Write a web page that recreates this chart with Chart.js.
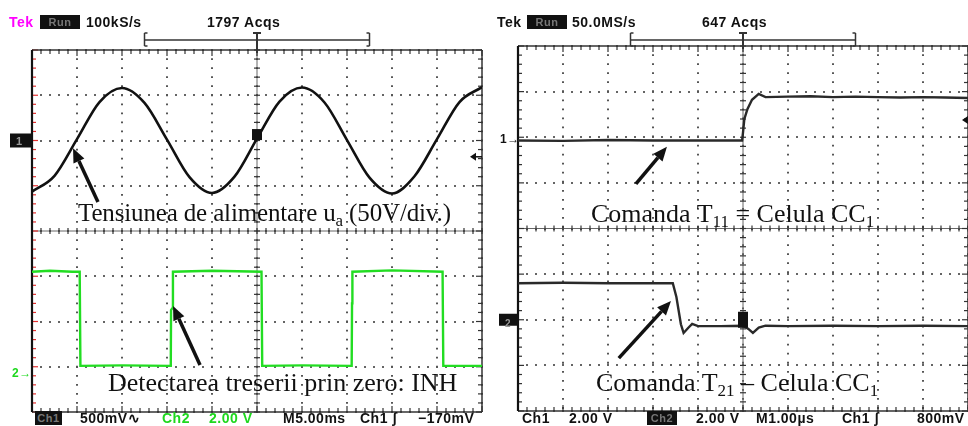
<!DOCTYPE html>
<html><head><meta charset="utf-8">
<script src="https://cdn.jsdelivr.net/npm/chart.js@4.4.0/dist/chart.umd.min.js"></script>
<style>
html,body{margin:0;padding:0;background:#fff;}
#wrap{position:relative;width:968px;height:426px;overflow:hidden;background:#fff;}
.panel{position:absolute;top:0;width:484px;height:426px;}
.panel canvas{position:absolute;left:0;top:0;}
.hd{position:absolute;font:bold 14px "Liberation Sans",Arial,sans-serif;line-height:14px;letter-spacing:0.5px;white-space:nowrap;color:#111;}
.box{background:#111;color:#777;font-size:11px;text-align:center;height:14px;}
.grn{color:#1ed81e;}
.ann{position:absolute;font:26px "Liberation Serif","Times New Roman",serif;line-height:26px;white-space:nowrap;color:#111;}
.ann sub{font-size:17px;vertical-align:-5px;line-height:0;}
</style></head>
<body>
<div id="wrap">
  <div class="panel" style="left:0"><canvas id="cL" width="484" height="426"></canvas></div>
  <div class="panel" style="left:484px"><canvas id="cR" width="484" height="426"></canvas></div>

  <!-- left header -->
  <span class="hd" style="left:9px;top:15px;color:#ff00ff">Tek</span>
  <span class="hd box" style="left:40px;top:15px;width:40px">Run</span>
  <span class="hd" style="left:86px;top:15px">100kS/s</span>
  <span class="hd" style="left:207px;top:15px">1797 Acqs</span>
  <!-- right header -->
  <span class="hd" style="left:497px;top:15px">Tek</span>
  <span class="hd box" style="left:527px;top:15px;width:40px">Run</span>
  <span class="hd" style="left:572px;top:15px">50.0MS/s</span>
  <span class="hd" style="left:702px;top:15px">647 Acqs</span>

  <!-- left footer -->
  <span class="hd box" style="left:35px;top:411px;width:27px">Ch1</span>
  <span class="hd" style="left:80px;top:411px">500mV∿</span>
  <span class="hd grn" style="left:162px;top:411px">Ch2</span>
  <span class="hd grn" style="left:209px;top:411px">2.00 V</span>
  <span class="hd" style="left:283px;top:411px">M5.00ms</span>
  <span class="hd" style="left:360px;top:411px">Ch1 ʃ</span>
  <span class="hd" style="left:418px;top:411px">−170mV</span>
  <!-- right footer -->
  <span class="hd" style="left:522px;top:411px">Ch1</span>
  <span class="hd" style="left:569px;top:411px">2.00 V</span>
  <span class="hd box" style="left:647px;top:411px;width:30px">Ch2</span>
  <span class="hd" style="left:696px;top:411px">2.00 V</span>
  <span class="hd" style="left:756px;top:411px">M1.00µs</span>
  <span class="hd" style="left:842px;top:411px">Ch1 ʃ</span>
  <span class="hd" style="left:917px;top:411px">800mV</span>

  <!-- channel marker labels -->
  <span class="hd" style="left:16px;top:134px;font-size:11px;color:#999">1</span>
  <span class="hd grn" style="left:12px;top:366px;font-size:12px">2→</span>
  <span class="hd" style="left:500px;top:132px;font-size:12px">1→</span>
  <span class="hd" style="left:505px;top:317px;font-size:10px;color:#999">2</span>

  <!-- annotations -->
  <div class="ann" style="left:78px;top:200px;font-size:25px;letter-spacing:-0.15px">Tensiunea de alimentare u<sub>a</sub> (50V/div.)</div>
  <div class="ann" style="left:108px;top:370px">Detectarea treserii prin zero: INH</div>
  <div class="ann" style="left:591px;top:201px">Comanda T<sub>11</sub> = Celula CC<sub>1</sub></div>
  <div class="ann" style="left:596px;top:370px">Comanda T<sub>21</sub> – Celula CC<sub>1</sub></div>
</div>
<script>
// ---------- DATA (y in screen divisions, center = 0) ----------
// Left scope: time base 5 ms/div, 10 divisions
const leftTimeMs   = [0,2.5,5,7.5,10,12.5,15,17.5,20,22.5,25,27.5,30,32.5,35,37.5,40,42.5,45,47.5,50];
const supplyDiv    = [0.87,1.22,2.03,2.85,3.16,2.83,2.02,1.19,0.84,1.20,2.04,2.86,3.17,2.84,2.01,1.18,0.83,1.21,2.03,2.85,3.18];
const inhTimeMs    = [0,2,4.5,5.3,5.38,10,15.42,15.45,15.62,15.66,20,25.5,25.58,30,35.52,35.56,35.6,40,45.62,45.7,50];
const inhDiv       = [-0.9,-0.88,-0.9,-0.9,-2.98,-2.97,-2.98,-1.75,-1.7,-0.9,-0.88,-0.9,-2.98,-2.97,-2.98,-1.6,-0.9,-0.87,-0.9,-2.98,-2.98];
// Right scope: time base 1 µs/div
const t11TimeUs    = [0,1,2,3,4,4.98,5.0,5.03,5.1,5.2,5.35,5.5,6,6.5,7,7.5,8,8.5,9,9.5,10];
const t11Div       = [1.93,1.92,1.94,1.93,1.93,1.93,2.1,2.4,2.62,2.82,2.95,2.88,2.89,2.9,2.88,2.89,2.88,2.87,2.88,2.87,2.86];
const t21TimeUs    = [0,1,2,3,3.44,3.52,3.62,3.68,3.78,3.87,4.0,4.5,5.0,5.12,5.22,5.35,5.5,6,7,8,9,10];
const t21Div       = [-1.2,-1.19,-1.2,-1.2,-1.2,-1.5,-2.1,-2.29,-2.18,-2.09,-2.14,-2.14,-2.13,-2.2,-2.29,-2.17,-2.13,-2.14,-2.13,-2.14,-2.13,-2.14];

const zip = (xs, ys) => xs.map((v, i) => ({x: v, y: ys[i]}));

function arrow(ctx, x1, y1, x2, y2){
  const ang = Math.atan2(y2 - y1, x2 - x1), hl = 14, hw = 6;
  const bx = x2 - hl * Math.cos(ang), by = y2 - hl * Math.sin(ang);
  ctx.strokeStyle = '#111'; ctx.fillStyle = '#111'; ctx.lineWidth = 3.5; ctx.lineCap = 'butt';
  ctx.beginPath(); ctx.moveTo(x1, y1); ctx.lineTo(bx, by); ctx.stroke();
  ctx.beginPath(); ctx.moveTo(x2, y2);
  ctx.lineTo(bx + hw * Math.sin(ang), by - hw * Math.cos(ang));
  ctx.lineTo(bx - hw * Math.sin(ang), by + hw * Math.cos(ang));
  ctx.closePath(); ctx.fill();
}

function makeScope(cfg){
  return {
    id: 'scope',
    beforeDatasetsDraw(chart){
      const {ctx, chartArea: a, scales: {x, y}} = chart;
      const xv = f => x.getPixelForValue(x.min + (x.max - x.min) * f);
      const yv = f => y.getPixelForValue(y.min + (y.max - y.min) * f);
      const cx = xv(0.5), cy = y.getPixelForValue(0);
      const seg = (x1, y1, x2, y2) => { ctx.beginPath(); ctx.moveTo(x1, y1); ctx.lineTo(x2, y2); ctx.stroke(); };
      ctx.save();
      // center cross
      ctx.strokeStyle = '#666'; ctx.lineWidth = 1;
      seg(cx, a.top, cx, a.bottom); seg(a.left, cy, a.right, cy);
      ctx.strokeStyle = '#333'; ctx.lineWidth = 1.2;
      for (let i = 0; i <= 50; i++){
        const px = xv(i / 50), L = i % 5 === 0 ? 6 : 4;
        seg(px, a.top, px, a.top + L);
        seg(px, a.bottom, px, a.bottom - L);
        seg(px, cy - 3, px, cy + 3);
      }
      for (let j = 0; j <= 40; j++){
        const py = yv(j / 40), L = j % 5 === 0 ? 6 : 4;
        ctx.strokeStyle = '#333';
        seg(a.right, py, a.right - L, py);
        seg(cx - 3, py, cx + 3, py);
        ctx.strokeStyle = cfg.leftTick;
        seg(a.left, py, a.left + L, py);
      }
      // frame
      ctx.strokeStyle = '#333'; ctx.lineWidth = 1.5;
      seg(a.left, a.top, a.right, a.top);
      seg(a.left, a.bottom, a.right, a.bottom);
      seg(a.right, a.top, a.right, a.bottom);
      ctx.strokeStyle = '#111'; ctx.lineWidth = 2.2;
      seg(a.left, a.top, a.left, a.bottom);
      // record bracket  [----T----]
      const by = a.top + cfg.bracketDy, b1 = xv(0.25), b2 = xv(0.75);
      ctx.strokeStyle = '#333'; ctx.lineWidth = 1.5;
      seg(b1, by, b2, by);
      seg(b1, by - 7, b1, by + 6); seg(b1, by - 7, b1 + 3, by - 7); seg(b1, by + 6, b1 + 3, by + 6);
      seg(b2, by - 7, b2, by + 6); seg(b2, by - 7, b2 - 3, by - 7); seg(b2, by + 6, b2 - 3, by + 6);
      ctx.lineWidth = 2;
      seg(cx - 4, by - 7, cx + 4, by - 7); seg(cx, by - 7, cx, a.top + 3);
      ctx.restore();
    },
    afterDatasetsDraw(chart){
      const {ctx, chartArea: a, scales: {x, y}} = chart;
      ctx.save();
      cfg.draw(ctx, a, x, y);
      ctx.restore();
    }
  };
}

function trigLevel(ctx, px, py){
  ctx.fillStyle = '#111'; ctx.strokeStyle = '#111'; ctx.lineWidth = 1.5;
  ctx.beginPath(); ctx.moveTo(px, py); ctx.lineTo(px + 6, py - 4); ctx.lineTo(px + 6, py + 4); ctx.closePath(); ctx.fill();
  ctx.beginPath(); ctx.moveTo(px + 6, py); ctx.lineTo(px + 12, py); ctx.stroke();
}

function baseOptions(pad, xMax){
  const gridCommon = {color: '#555', lineWidth: 2, drawTicks: false};
  return {
    responsive: false, animation: false,
    layout: {padding: pad},
    plugins: {legend: {display: false}, tooltip: {enabled: false}},
    elements: {point: {radius: 0}},
    scales: {
      x: {type: 'linear', min: 0, max: xMax, ticks: {display: false, stepSize: xMax / 10},
          grid: gridCommon, border: {display: false, dash: [1.8, 7.25], dashOffset: 0.9}},
      y: {type: 'linear', min: -4, max: 4, ticks: {display: false, stepSize: 1},
          grid: gridCommon, border: {display: false, dash: [1.8, 7.2], dashOffset: 0.9}}
    }
  };
}

// ---------- LEFT SCOPE ----------
new Chart(document.getElementById('cL'), {
  type: 'line',
  data: {datasets: [
    {data: zip(leftTimeMs, supplyDiv), borderColor: '#111', borderWidth: 2.6, cubicInterpolationMode: 'monotone'},
    {data: zip(inhTimeMs, inhDiv), borderColor: '#22dd22', borderWidth: 2.4, tension: 0}
  ]},
  options: baseOptions({left: 32, right: 2, top: 50, bottom: 14}, 50),
  plugins: [makeScope({
    leftTick: '#e23030', bracketDy: -10,
    draw(ctx, a, x, y){
      const g1 = y.getPixelForValue(2);
      ctx.fillStyle = '#111'; ctx.fillRect(a.left - 22, g1 - 7, 22, 14);
      ctx.fillRect(x.getPixelForValue(25) - 5, y.getPixelForValue(2.12) - 6, 10, 11);
      trigLevel(ctx, a.right - 12, y.getPixelForValue(1.64));
      arrow(ctx, x.getPixelForValue(7.33), y.getPixelForValue(0.64), x.getPixelForValue(4.56), y.getPixelForValue(1.83));
      arrow(ctx, x.getPixelForValue(18.67), y.getPixelForValue(-2.96), x.getPixelForValue(15.67), y.getPixelForValue(-1.66));
    }
  })]
});

// ---------- RIGHT SCOPE ----------
new Chart(document.getElementById('cR'), {
  type: 'line',
  data: {datasets: [
    {data: zip(t11TimeUs, t11Div), borderColor: '#2a2a2a', borderWidth: 2.4, tension: 0},
    {data: zip(t21TimeUs, t21Div), borderColor: '#2a2a2a', borderWidth: 2.4, tension: 0}
  ]},
  options: baseOptions({left: 34, right: 0, top: 46, bottom: 15}, 10),
  plugins: [makeScope({
    leftTick: '#333', bracketDy: -6,
    draw(ctx, a, x, y){
      const g2 = y.getPixelForValue(-2);
      ctx.fillStyle = '#111'; ctx.fillRect(a.left - 19, g2 - 6, 19, 12);
      ctx.fillRect(x.getPixelForValue(5) - 5, y.getPixelForValue(-2.0) - 8, 10, 16);
      trigLevel(ctx, a.right - 6, y.getPixelForValue(2.38));
      arrow(ctx, x.getPixelForValue(2.62), y.getPixelForValue(0.98), x.getPixelForValue(3.31), y.getPixelForValue(1.79));
      arrow(ctx, x.getPixelForValue(2.24), y.getPixelForValue(-2.84), x.getPixelForValue(3.4), y.getPixelForValue(-1.59));
    }
  })]
});
</script>
</body></html>
